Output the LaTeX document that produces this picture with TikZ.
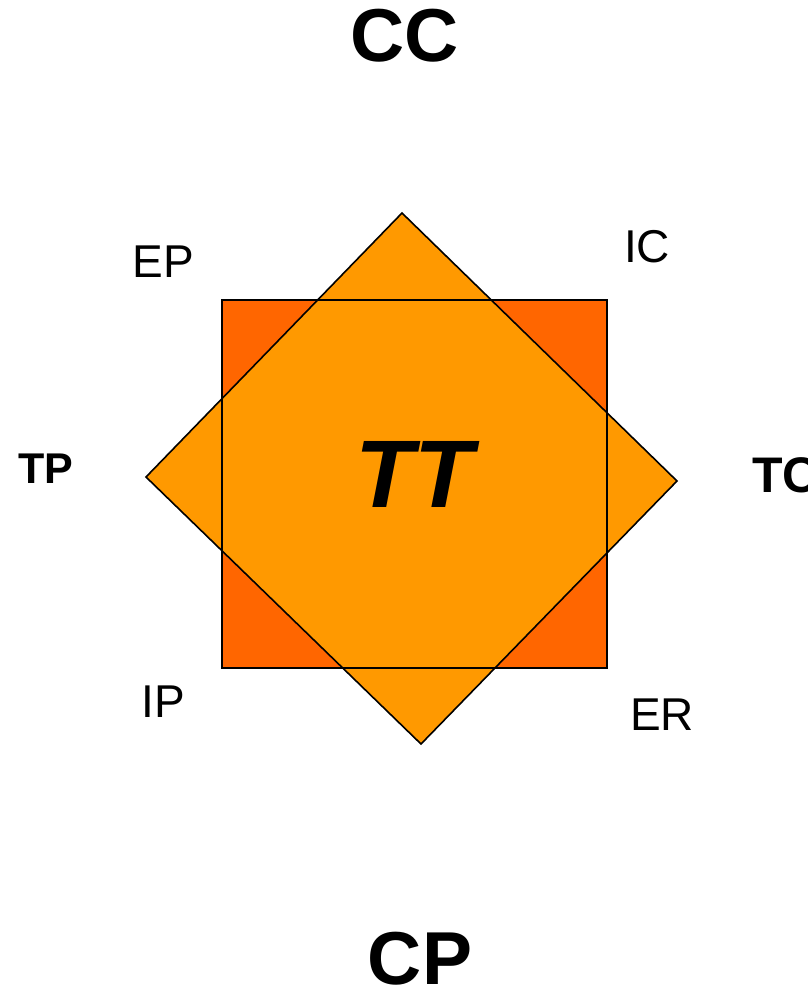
\documentclass[tikz,border=0pt]{standalone}
\usepackage{fontspec}
\setmainfont{Liberation Sans}
\definecolor{sqorange}{HTML}{FF6600}
\definecolor{dmorange}{HTML}{FF9900}
\begin{document}
\begin{tikzpicture}[x=1pt,y=-1pt,
  lbl/.style={inner sep=0pt,anchor=center},
  big/.style={lbl,font=\fontsize{75}{75}\selectfont\bfseries},
  side/.style={lbl,font=\fontsize{43}{43}\selectfont\bfseries},
  corner/.style={lbl,font=\fontsize{46}{46}\selectfont},
  shape line/.style={draw=black,line join=miter}]
\useasboundingbox (0,0) rectangle (807,988);
% square
\coordinate (s1) at (222,300);
\coordinate (s2) at (607,668);
\fill[sqorange] (s1) rectangle (s2);
% diamond
\coordinate (dt) at (402,213);
\coordinate (dr) at (677,481);
\coordinate (db) at (421,744);
\coordinate (dl) at (146,477);
\filldraw[fill=dmorange,shape line,line width=1.6pt] (dt) -- (dr) -- (db) -- (dl) -- cycle;
\draw[shape line,line width=2pt] (s1) rectangle (s2);
% labels
\node[big] (cc) at (405,36) {CC};
\node[big] (cp) at (420,959) {CP};
\node[side] (tp) at (46,469) {TP};
\node[side,font=\fontsize{50}{50}\selectfont\bfseries,anchor=west] (tc) at (752,475) {TC};
\node[corner] (ep) at (163,262) {EP};
\node[corner] (ic) at (647,247) {IC};
\node[corner] (ip) at (163,702) {IP};
\node[corner] (er) at (662,715) {ER};
\node[lbl,font=\fontsize{96}{96}\selectfont\bfseries\itshape] (tt) at (414,474) {TT};
\end{tikzpicture}
\end{document}
